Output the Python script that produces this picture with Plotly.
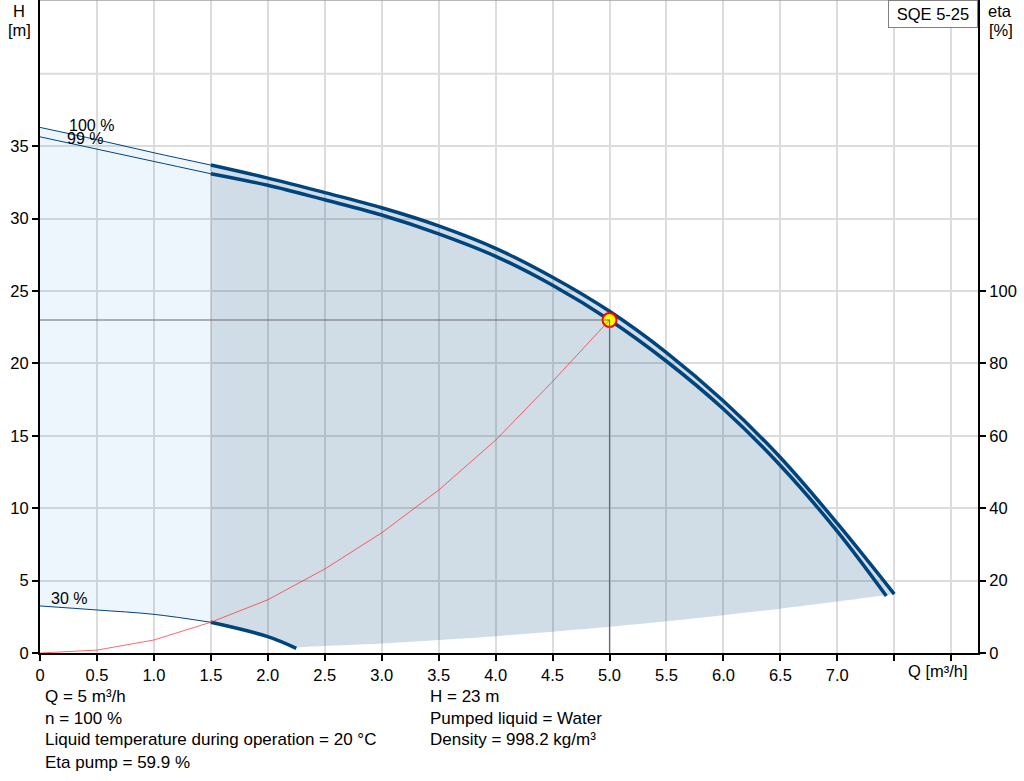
"""Pump performance curve for SQE 5-25 (head and efficiency vs flow)."""
import plotly.graph_objects as go

# ---------------------------------------------------------------------------
# Data
# ---------------------------------------------------------------------------
Q_100 = [0, 0.5, 1.0, 1.5, 2.0, 2.5, 3.0, 3.5, 4.0, 4.5, 5.0, 5.5, 6.0, 6.5, 7.0, 7.5]
H_100 = [36.3, 35.45, 34.55, 33.7, 32.8, 31.8, 30.75, 29.5, 27.95, 25.95, 23.6, 20.75, 17.4, 13.5, 8.95, 4.07]

Q_99 = [0, 0.5, 1.0, 1.5, 2.0, 2.5, 3.0, 3.5, 4.0, 4.5, 5.0, 5.5, 6.0, 6.5, 7.0, 7.43]
H_99 = [35.65, 34.8, 33.95, 33.1, 32.3, 31.3, 30.25, 28.95, 27.4, 25.4, 23.0, 20.15, 16.85, 12.95, 8.4, 3.94]

Q_30 = [0, 0.5, 1.0, 1.5, 2.0, 2.25]
H_30 = [3.25, 2.97, 2.67, 2.12, 1.13, 0.32]

# lower edge of the operating range (shaded area)
Q_MIN = [2.25, 3.0, 3.5, 4.0, 4.5, 5.0, 5.5, 6.0, 6.5, 7.0, 7.5]
H_MIN = [0.35, 0.65, 0.89, 1.16, 1.47, 1.81, 2.19, 2.61, 3.06, 3.55, 4.07]

Q_ETA = [0, 0.5, 1.0, 1.5, 2.0, 2.5, 3.0, 3.5, 4.0, 4.5, 5.0]
ETA = [0, 0.8, 3.6, 8.5, 14.7, 23.2, 33.2, 45.0, 58.8, 75.0, 92.0]

Q_OP = 5.0
H_OP = 23.0

X_TICKS = [0, 0.5, 1.0, 1.5, 2.0, 2.5, 3.0, 3.5, 4.0, 4.5, 5.0, 5.5, 6.0, 6.5, 7.0, 7.5, 8.0]
X_LABELS = ["0", "0.5", "1.0", "1.5", "2.0", "2.5", "3.0", "3.5", "4.0", "4.5",
            "5.0", "5.5", "6.0", "6.5", "7.0", "", ""]
H_TICKS = [0, 5, 10, 15, 20, 25, 30, 35]
ETA_TICKS = [0, 20, 40, 60, 80, 100]

INFO_LEFT = ["Q = 5 m³/h", "n = 100 %",
             "Liquid temperature during operation = 20 °C", "Eta pump = 59.9 %"]
INFO_RIGHT = ["H = 23 m", "Pumped liquid = Water", "Density = 998.2 kg/m³"]

# ---------------------------------------------------------------------------
BLUE = "rgb(0,68,125)"
FONT = "Liberation Sans, Arial, sans-serif"
W, H = 1024, 781
ML, MR, MT, MB = 40, 46, 0, 128
PW, PH = W - ML - MR, H - MT - MB


def px(x):
    return (x - ML) / PW


def py(y):
    return (H - MB - y) / PH


fig = go.Figure()

# light area left of the minimum flow
light_x = Q_100[:4] + Q_30[:4][::-1]
light_y = H_100[:4] + H_30[:4][::-1]
fig.add_trace(go.Scatter(x=light_x, y=light_y, fill="toself", mode="none",
                         fillcolor="rgba(10,125,225,0.07)", hoverinfo="skip"))

# operating range
dark_x = Q_100[3:] + Q_MIN[::-1] + Q_30[3:][::-1]
dark_y = H_100[3:] + H_MIN[::-1] + H_30[3:][::-1]
fig.add_trace(go.Scatter(x=dark_x, y=dark_y, fill="toself", mode="lines",
                         line=dict(width=0, shape="spline", smoothing=0.6),
                         fillcolor="rgba(0,66,122,0.185)", hoverinfo="skip"))

# thin parts (below min flow) and thick parts of the head curves
for qs, hs in [(Q_100, H_100), (Q_99, H_99), (Q_30, H_30)]:
    fig.add_trace(go.Scatter(x=qs[:4], y=hs[:4], mode="lines",
                             line=dict(color=BLUE, width=1, shape="spline")))
    fig.add_trace(go.Scatter(x=qs[3:], y=hs[3:], mode="lines",
                             line=dict(color=BLUE, width=3.5, shape="spline")))

# efficiency
fig.add_trace(go.Scatter(x=Q_ETA, y=ETA, mode="lines", yaxis="y2",
                         line=dict(color="rgba(255,40,40,0.7)", width=1)))

# duty point
fig.add_trace(go.Scatter(x=[Q_OP], y=[H_OP], mode="markers",
                         marker=dict(size=14, color="#ffff00",
                                     line=dict(color="#ff0000", width=2))))
fig.add_trace(go.Scatter(x=[0, Q_OP, Q_OP], y=[H_OP, H_OP, 0], mode="lines",
                         line=dict(color="#6a6a6a", width=1.2)))

grid = "#dcdcdc"
axis_common = dict(ticks="outside", ticklen=6, tickwidth=1.5, tickcolor="black",
                   showline=True, linecolor="black", linewidth=2, zeroline=False,
                   tickfont=dict(size=16.5, color="black"))

fig.update_layout(
    width=W, height=H,
    margin=dict(l=ML, r=MR, t=MT, b=MB),
    plot_bgcolor="white", paper_bgcolor="white",
    showlegend=False,
    font=dict(family=FONT, size=16.5, color="black"),
    xaxis=dict(range=[0, 8.235], tickvals=X_TICKS, ticktext=X_LABELS,
               showgrid=True, gridcolor=grid, gridwidth=2, **axis_common),
    yaxis=dict(range=[0, 45.1], tickvals=H_TICKS, showgrid=True,
               gridcolor=grid, gridwidth=2, **axis_common),
    yaxis2=dict(range=[0, 180.4], tickvals=ETA_TICKS, overlaying="y", side="right",
                showgrid=False, **axis_common),
)

# extra grid line at 40 m (no tick label), top border
fig.add_shape(type="line", xref="paper", yref="y", x0=0, x1=1, y0=40, y1=40,
              line=dict(color=grid, width=2), layer="below")
fig.add_shape(type="line", xref="paper", yref="paper", x0=0, x1=1, y0=1, y1=1,
              line=dict(color="#a0a0a0", width=1.5))

# pump name box
fig.add_annotation(x=1, y=1, xref="paper", yref="paper", xanchor="right",
                   yanchor="top", text="SQE 5-25", showarrow=False,
                   width=88, height=26, align="center", bgcolor="white",
                   bordercolor="#808080", borderwidth=1, borderpad=0,
                   font=dict(size=16.5))

# axis titles
for txt, xx, yy in [("H", 19, 11), ("[m]", 19, 30), ("eta", 1000, 11),
                    ("[%]", 1001, 30), ("Q [m³/h]", 938, 671)]:
    fig.add_annotation(x=px(xx), y=py(yy), xref="paper", yref="paper", text=txt,
                       showarrow=False, xanchor="center", yanchor="middle")

# curve labels (overlapping, as in the source chart)
for txt, qx, hy in [("100 %", 0.24, 36.4), ("99 %", 0.22, 35.55), ("30 %", 0.08, 3.75)]:
    fig.add_annotation(x=qx, y=hy, text=txt, showarrow=False, xanchor="left",
                       yanchor="middle", font=dict(size=16))

# info text below the chart
for i, txt in enumerate(INFO_LEFT):
    fig.add_annotation(x=px(43), y=py(696 + 22 * i), xref="paper", yref="paper",
                       text=txt, showarrow=False, xanchor="left", yanchor="middle",
                       font=dict(size=17))
for i, txt in enumerate(INFO_RIGHT):
    fig.add_annotation(x=px(428), y=py(696 + 22 * i), xref="paper", yref="paper",
                       text=txt, showarrow=False, xanchor="left", yanchor="middle",
                       font=dict(size=17))

fig.write_html(
    "out.html",
    config={"displayModeBar": False},
    post_script="document.body.style.margin='0';document.body.style.overflow='hidden';",
)
